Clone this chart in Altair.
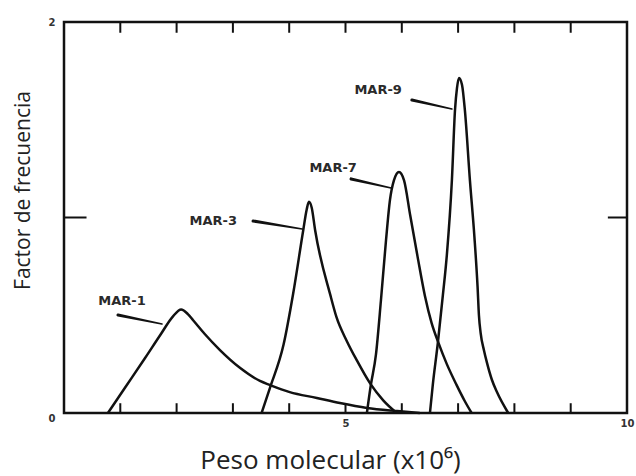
import altair as alt
import pandas as pd

# ---- data ----
series = ["MAR-1", "MAR-3", "MAR-7", "MAR-9"]

mar1_x = [0.78, 1.08, 1.44, 1.71, 1.94, 2.08, 2.20, 2.29, 2.50, 2.77, 3.13, 3.48, 3.66, 4.01, 4.49, 4.90, 5.38, 5.92, 6.32]
mar1_y = [0.00, 0.128, 0.281, 0.399, 0.496, 0.530, 0.506, 0.476, 0.404, 0.322, 0.230, 0.164, 0.143, 0.107, 0.077, 0.051, 0.026, 0.010, 0.00]

mar3_x = [3.51, 3.66, 3.90, 4.07, 4.25, 4.31, 4.35, 4.40, 4.46, 4.73, 4.84, 5.02, 5.20, 5.44, 5.67, 5.91]
mar3_y = [0.00, 0.13, 0.35, 0.61, 0.936, 1.04, 1.08, 1.05, 0.936, 0.604, 0.49, 0.37, 0.27, 0.15, 0.065, 0.00]

mar7_x = [5.38, 5.45, 5.54, 5.63, 5.72, 5.79, 5.86, 5.95, 6.04, 6.15, 6.28, 6.41, 6.53, 6.65, 6.80, 6.97, 7.12, 7.24]
mar7_y = [0.00, 0.143, 0.297, 0.578, 0.885, 1.09, 1.19, 1.233, 1.19, 1.01, 0.80, 0.60, 0.46, 0.36, 0.25, 0.145, 0.06, 0.00]

mar9_x = [6.50, 6.55, 6.64, 6.73, 6.80, 6.89, 6.945, 6.98, 7.016, 7.07, 7.12, 7.21, 7.29, 7.345, 7.37, 7.40, 7.46, 7.51, 7.60, 7.69, 7.89]
mar9_y = [0.00, 0.143, 0.358, 0.604, 0.808, 1.192, 1.55, 1.662, 1.714, 1.678, 1.55, 1.19, 0.90, 0.65, 0.50, 0.41, 0.32, 0.26, 0.17, 0.107, 0.00]

# label anchors (data units) and leader lines (start near label, end on curve)
label_x = [1.03, 2.65, 4.78, 5.58]
label_y = [0.573, 0.982, 1.253, 1.650]
leader_x0 = [0.96, 3.36, 5.10, 6.18]
leader_y0 = [0.501, 0.982, 1.197, 1.601]
leader_x1 = [1.74, 4.23, 5.81, 6.89]
leader_y1 = [0.455, 0.941, 1.151, 1.555]

x_ticks = [1, 2, 3, 4, 5, 6, 7, 8, 9]
x_labels = [5, 10]
y_labels = [0, 1, 2]
y_inner_ticks = [1]

# ---- tables built from the arrays ----
rows = []
for name, xs, ys in zip(series, [mar1_x, mar3_x, mar7_x, mar9_x], [mar1_y, mar3_y, mar7_y, mar9_y]):
    for i, (xv, yv) in enumerate(zip(xs, ys)):
        rows.append({"serie": name, "peso": xv, "factor": yv, "orden": i})
curves = pd.DataFrame(rows)

labels = pd.DataFrame({"serie": series, "peso": label_x, "factor": label_y})

lead_rows = []
for name, a, b, c, d in zip(series, leader_x0, leader_y0, leader_x1, leader_y1):
    lead_rows.append({"serie": name, "peso": a, "factor": b, "w": 3.2, "orden": 0})
    lead_rows.append({"serie": name, "peso": c, "factor": d, "w": 1.6, "orden": 1})
leaders = pd.DataFrame(lead_rows)

tick_rows = []
for t in x_ticks:
    tick_rows.append({"x": t, "x2": t, "y": 0.0, "y2": 0.05})
    tick_rows.append({"x": t, "x2": t, "y": 2.0, "y2": 1.945})
for t in y_inner_ticks:
    tick_rows.append({"x": 0.0, "x2": 0.4, "y": t, "y2": t})
    tick_rows.append({"x": 10.0, "x2": 9.66, "y": t, "y2": t})
ticks = pd.DataFrame(tick_rows)

x_scale = alt.Scale(domain=[0, 10], nice=False, zero=False)
y_scale = alt.Scale(domain=[0, 2], nice=False, zero=False)

x_axis = alt.Axis(
    values=x_labels, format="d", grid=False, domain=False, ticks=False, tickSize=0,
    labelFont="DejaVu Sans", labelFontSize=10, labelFontWeight="bold", labelColor="#333",
    labelPadding=5, labelFlush=False, labelOverlap=False,
    title="Peso molecular (x10⁶)", titleFont="Open Sans", titleFontSize=26,
    titleFontWeight="normal", titleColor="#222",
    titleX=266, titleY=55, titleBaseline="alphabetic", titleAlign="center",
)
y_axis = alt.Axis(
    values=y_labels, format="d", grid=False, domain=False, ticks=False, tickSize=0,
    labelFont="DejaVu Sans", labelFontSize=10, labelFontWeight="bold", labelColor="#333",
    labelPadding=9, labelOverlap=False, labelFlush=False,
    labelBaseline=alt.condition("datum.value == 0", alt.value("top"), alt.value("middle")),
    title="Factor de frecuencia", titleFont="Open Sans", titleFontSize=21,
    titleFontWeight="normal", titleColor="#222",
    titleX=-41, titleY=168, titleAngle=-90, titleBaseline="middle", titleAlign="center",
)

lines = alt.Chart(curves).mark_line(
    color="#111", strokeWidth=2.5, interpolate="monotone"
).encode(
    x=alt.X("peso:Q", scale=x_scale, axis=x_axis),
    y=alt.Y("factor:Q", scale=y_scale, axis=y_axis),
    detail="serie:N",
    order="orden:Q",
)

lead = alt.Chart(leaders).mark_trail(color="#111").encode(
    x=alt.X("peso:Q", scale=x_scale),
    y=alt.Y("factor:Q", scale=y_scale),
    size=alt.Size("w:Q", scale=None, legend=None),
    detail="serie:N",
    order="orden:Q",
)

text = alt.Chart(labels).mark_text(
    font="DejaVu Sans", fontSize=13, fontWeight="bold", color="#2a2a2a",
    align="center", baseline="middle",
).encode(
    x=alt.X("peso:Q", scale=x_scale),
    y=alt.Y("factor:Q", scale=y_scale),
    text="serie:N",
)

tick_marks = alt.Chart(ticks).mark_rule(color="#111", strokeWidth=2).encode(
    x=alt.X("x:Q", scale=x_scale),
    x2="x2:Q",
    y=alt.Y("y:Q", scale=y_scale),
    y2="y2:Q",
)

chart = alt.layer(tick_marks, lines, lead, text).properties(
    width=563,
    height=391,
    background="white",
    autosize=alt.AutoSizeParams(type="none"),
    padding={"left": 64, "top": 22, "right": 9, "bottom": 63},
).configure_view(
    stroke="#111", strokeWidth=2.5
)

chart.save("out.html", embed_options={"renderer": "svg", "actions": False})
